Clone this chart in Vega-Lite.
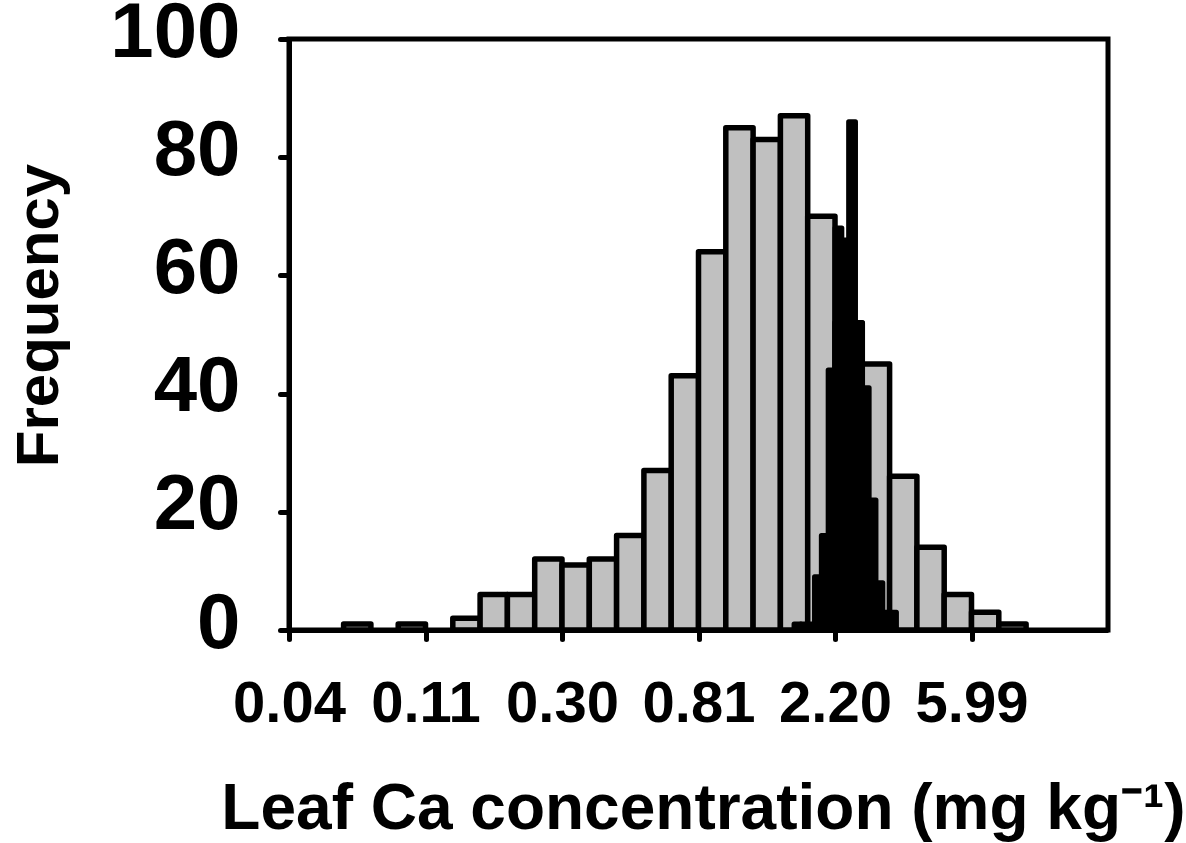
{
  "$schema": "https://vega.github.io/schema/vega-lite/v6.json",
  "width": 819,
  "height": 591,
  "autosize": "none",
  "padding": {"left": 289, "top": 39, "right": 78, "bottom": 213},
  "background": "white",
  "config": {
    "view": {"stroke": "black", "strokeWidth": 5},
    "font": "Liberation Sans",
    "axis": {"zindex": 1}
  },
  "datasets": {
    "all": [
      {"start": 0.4, "end": 0.6, "count": 1},
      {"start": 0.8, "end": 1.0, "count": 1},
      {"start": 1.2, "end": 1.4, "count": 2},
      {"start": 1.4, "end": 1.6, "count": 6},
      {"start": 1.6, "end": 1.8, "count": 6},
      {"start": 1.8, "end": 2.0, "count": 12},
      {"start": 2.0, "end": 2.2, "count": 11},
      {"start": 2.2, "end": 2.4, "count": 12},
      {"start": 2.4, "end": 2.6, "count": 16},
      {"start": 2.6, "end": 2.8, "count": 27},
      {"start": 2.8, "end": 3.0, "count": 43},
      {"start": 3.0, "end": 3.2, "count": 64},
      {"start": 3.2, "end": 3.4, "count": 85},
      {"start": 3.4, "end": 3.6, "count": 83},
      {"start": 3.6, "end": 3.8, "count": 87},
      {"start": 3.8, "end": 4.0, "count": 70},
      {"start": 4.0, "end": 4.2, "count": 52},
      {"start": 4.2, "end": 4.4, "count": 45},
      {"start": 4.4, "end": 4.6, "count": 26},
      {"start": 4.6, "end": 4.8, "count": 14},
      {"start": 4.8, "end": 5.0, "count": 6},
      {"start": 5.0, "end": 5.2, "count": 3},
      {"start": 5.2, "end": 5.4, "count": 1}
    ],
    "subset": [
      {"start": 3.70, "end": 3.75, "count": 1},
      {"start": 3.75, "end": 3.80, "count": 1},
      {"start": 3.80, "end": 3.85, "count": 1},
      {"start": 3.85, "end": 3.90, "count": 9},
      {"start": 3.90, "end": 3.95, "count": 16},
      {"start": 3.95, "end": 4.00, "count": 44},
      {"start": 4.00, "end": 4.05, "count": 68},
      {"start": 4.05, "end": 4.10, "count": 66},
      {"start": 4.10, "end": 4.15, "count": 86},
      {"start": 4.15, "end": 4.20, "count": 52},
      {"start": 4.20, "end": 4.25, "count": 41},
      {"start": 4.25, "end": 4.30, "count": 22},
      {"start": 4.30, "end": 4.35, "count": 8},
      {"start": 4.35, "end": 4.40, "count": 3},
      {"start": 4.40, "end": 4.45, "count": 3}
    ]
  },
  "encoding": {
    "x": {
      "field": "start",
      "type": "quantitative",
      "scale": {"domain": [0, 6], "nice": false, "zero": false},
      "axis": {
        "values": [0, 1, 2, 3, 4, 5],
        "labelExpr": "['0.04','0.11','0.30','0.81','2.20','5.99'][datum.value]",
        "grid": false,
        "domainColor": "black",
        "domainWidth": 5,
        "tickColor": "black",
        "tickWidth": 5,
        "tickSize": 9,
        "tickCap": "round",
        "labelFont": "Liberation Sans",
        "labelFontSize": 58,
        "labelFontWeight": "bold",
        "labelColor": "black",
        "labelPadding": 36,
        "labelBaseline": "top",
        "labelAlign": "center",
        "labelFlush": false,
        "labelOverlap": false,
        "title": "Leaf Ca concentration (mg kg⁻¹)",
        "titleFont": "Liberation Sans",
        "titleFontSize": 64,
        "titleFontWeight": "bold",
        "titleColor": "black",
        "titleX": 414,
        "titleY": 198,
        "titleAlign": "center",
        "titleBaseline": "alphabetic"
      }
    },
    "x2": {"field": "end"},
    "y": {
      "field": "count",
      "type": "quantitative",
      "scale": {"domain": [0, 100], "nice": false},
      "axis": {
        "values": [0, 20, 40, 60, 80, 100],
        "grid": false,
        "domainColor": "black",
        "domainWidth": 5,
        "tickColor": "black",
        "tickWidth": 5,
        "tickSize": 9,
        "tickCap": "round",
        "labelFont": "Liberation Sans",
        "labelFontSize": 78,
        "labelFontWeight": "bold",
        "labelColor": "black",
        "labelPadding": 40,
        "labelOffset": -6,
        "labelFlush": false,
        "labelOverlap": false,
        "title": "Frequency",
        "titleFont": "Liberation Sans",
        "titleFontSize": 60,
        "titleFontWeight": "bold",
        "titleColor": "black",
        "titleAngle": -90,
        "titleX": -232,
        "titleY": 276,
        "titleAlign": "center",
        "titleBaseline": "alphabetic"
      }
    },
    "y2": {"datum": 0}
  },
  "layer": [
    {
      "data": {"name": "all"},
      "mark": {"type": "bar", "fill": "#c0c0c0", "stroke": "black", "strokeWidth": 5.5, "strokeJoin": "round"}
    },
    {
      "data": {"name": "subset"},
      "mark": {"type": "bar", "fill": "black", "stroke": "black", "strokeWidth": 5, "strokeJoin": "round"}
    }
  ]
}
